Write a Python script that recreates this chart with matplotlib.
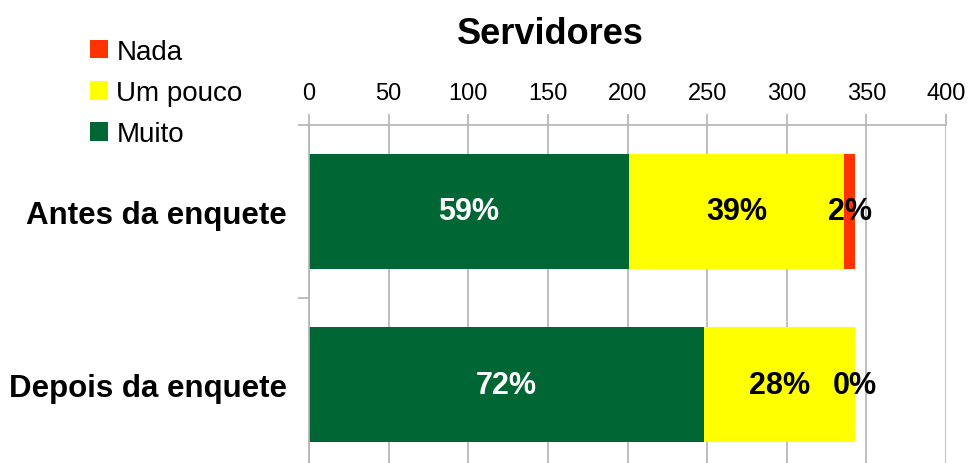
import matplotlib.pyplot as plt
from matplotlib.patches import Patch

plt.rcParams['font.family'] = ['Liberation Sans', 'DejaVu Sans']

categories = ['Antes da enquete', 'Depois da enquete']
series_names = ['Muito', 'Um pouco', 'Nada']
muito = [201, 248]
um_pouco = [135, 95]
nada = [7, 0]
colors = ['#006633', '#ffff00', '#ff3300']
label_colors = ['white', 'black', 'black']

fig = plt.figure(figsize=(9.7, 4.64), dpi=100)
ax = fig.add_axes([309 / 970, -8 / 464, 637 / 970, 346 / 464])

grid_c = '#b3b3b3'
y = list(range(len(categories)))
left = [0] * len(categories)
totals = [a + b + c for a, b, c in zip(muito, um_pouco, nada)]
for vals, name, col, tc in zip([muito, um_pouco, nada], series_names, colors, label_colors):
    bars = ax.barh(y, vals, left=left, height=0.67, color=col, label=name, zorder=2)
    for i, b in enumerate(bars):
        pct = round(100 * vals[i] / totals[i])
        ax.text(left[i] + vals[i] / 2, y[i], f'{pct}%', ha='center', va='center',
                fontsize=22, fontweight='bold', color=tc, zorder=3)
    left = [l + v for l, v in zip(left, vals)]

ax.set_xlim(0, 400)
ax.set_ylim(1.5, -0.5)
ax.xaxis.tick_top()
ax.set_xticks(range(0, 401, 50))
ax.tick_params(axis='x', which='major', length=8, width=1.2, color=grid_c,
               labelsize=17, pad=7)
ax.grid(axis='x', color=grid_c, linewidth=1.2, zorder=0)

ax.set_yticks([-0.5, 0.5, 1.5])
ax.set_yticklabels([])
ax.set_yticks(y, minor=True)
ax.set_yticklabels(categories, minor=True, fontsize=22.5, fontweight='bold')
ax.tick_params(axis='y', which='major', length=8, width=1.2, color=grid_c)
ax.tick_params(axis='y', which='minor', length=0, pad=16)

for s in ['right', 'bottom']:
    ax.spines[s].set_visible(False)
for s in ['top', 'left']:
    ax.spines[s].set_color(grid_c)
    ax.spines[s].set_linewidth(1.2)

fig.text(550 / 970, 1 - 35 / 464, 'Servidores', ha='center', va='center',
         fontsize=26, fontweight='bold')

handles = [Patch(facecolor=c, label=n) for c, n in zip(colors[::-1], series_names[::-1])]
fig.legend(handles=handles, loc='upper left', bbox_to_anchor=(76 / 970, 1 - 26 / 464),
           frameon=False, fontsize=20, handlelength=0.65, handleheight=0.65,
           handletextpad=0.3, labelspacing=0.55, borderpad=0)

fig.savefig('out.png', dpi=100)
